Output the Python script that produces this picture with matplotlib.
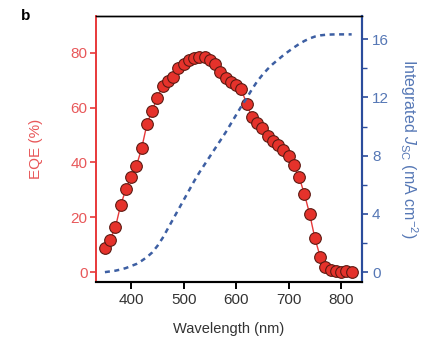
import matplotlib
matplotlib.use("Agg")
import matplotlib.pyplot as plt
from matplotlib.ticker import MultipleLocator

plt.rcParams['font.family'] = ['Liberation Sans', 'DejaVu Sans']
plt.rcParams['mathtext.fontset'] = 'custom'
plt.rcParams['mathtext.rm'] = 'Liberation Sans'
plt.rcParams['mathtext.it'] = 'Liberation Sans:italic'

wavelength = [350, 360, 370, 380, 390, 400, 410, 420, 430, 440, 450, 460, 470, 480,
              490, 500, 510, 520, 530, 540, 550, 560, 570, 580, 590, 600, 610, 620,
              630, 640, 650, 660, 670, 680, 690, 700, 710, 720, 730, 740, 750, 760,
              770, 780, 790, 800, 810, 820]
eqe = [8.7, 11.8, 16.4, 24.5, 30.2, 34.8, 38.7, 45.2, 53.9, 58.9, 63.6, 68.0, 69.5, 71.3,
       74.3, 76.0, 77.3, 78.1, 78.5, 78.3, 77.5, 75.7, 73.1, 70.9, 69.4, 68.2, 66.6, 61.3,
       56.6, 54.5, 52.4, 49.8, 48.0, 46.3, 44.4, 42.3, 39.1, 34.6, 28.5, 21.2, 12.4, 5.7,
       2.0, 0.8, 0.3, 0.2, 0.3, 0.0]
jsc = [0.0, 0.05, 0.1, 0.18, 0.28, 0.42, 0.56, 0.78, 1.03, 1.35, 1.8, 2.35, 3.0, 3.65,
       4.3, 4.95, 5.6, 6.25, 6.85, 7.4, 7.95, 8.5, 9.05, 9.6, 10.2, 10.8, 11.4, 11.95,
       12.55, 13.1, 13.55, 13.95, 14.3, 14.6, 14.9, 15.17, 15.43, 15.67, 15.88, 16.05, 16.18, 16.26,
       16.3, 16.32, 16.33, 16.33, 16.33, 16.33]

eqe_ticks = [0, 20, 40, 60, 80]
jsc_ticks = [0, 4, 8, 12, 16]
x_ticks = [400, 500, 600, 700, 800]

RED = '#e8393a'
RED_TXT = '#e8585a'
BLUE = '#2b4c9c'
BLUE_TXT = '#5577b5'
DASH = '#3d5fa3'

fig = plt.figure(figsize=(4.21, 3.38), dpi=100)
ax = fig.add_axes([0.228, 0.166, 0.631, 0.787])
ax2 = ax.twinx()

ax.plot(wavelength, eqe, '-', color=RED, lw=1.0, marker='o', markersize=8.4,
        markerfacecolor='#e5322b', markeredgecolor='#5c1a12', markeredgewidth=0.8, zorder=3)
ax2.plot(wavelength, jsc, color=DASH, lw=1.8, dashes=(2.0, 1.8))

ax.set_xlim(333, 839)
ax.set_ylim(-3.5, 93.4)
ax2.set_ylim(-0.67, 17.6)

ax.set_xticks(x_ticks)
ax.set_yticks(eqe_ticks)
ax2.set_yticks(jsc_ticks)
ax2.yaxis.set_minor_locator(MultipleLocator(2))

fs = 11
ax.tick_params(axis='x', direction='out', length=5, width=1.4, colors='black',
               labelsize=fs, labelcolor='#333333', pad=3)
ax.tick_params(axis='y', direction='out', length=4.5, width=1.2, colors=RED,
               labelsize=fs, labelcolor=RED_TXT, pad=1.5)
ax2.tick_params(axis='y', which='major', direction='out', length=4.5, width=1.2, colors=BLUE,
                labelsize=fs, labelcolor=BLUE_TXT, pad=3)
ax2.tick_params(axis='y', which='minor', direction='out', length=3.5, width=1.0, colors=BLUE)

for a in (ax, ax2):
    a.spines['left'].set_color(RED)
    a.spines['left'].set_linewidth(1.2)
    a.spines['right'].set_color(BLUE)
    a.spines['right'].set_linewidth(1.5)
    a.spines['bottom'].set_color('black')
    a.spines['bottom'].set_linewidth(1.5)
    a.spines['top'].set_color('black')
    a.spines['top'].set_linewidth(1.0)

ax.set_xlabel('Wavelength (nm)', fontsize=10.5, color='#333333', labelpad=11)
ax.set_ylabel('EQE (%)', fontsize=11, color=RED_TXT, labelpad=20)
ax2.set_ylabel(r'Integrated $J_{\rm SC}$ (mA cm$^{-2}$)', fontsize=11.5, color=BLUE_TXT,
               rotation=-90, labelpad=22)

fig.text(0.06, 0.952, 'b', fontsize=11, fontweight='bold', va='center', ha='center')

fig.savefig('out.png', dpi=100)
